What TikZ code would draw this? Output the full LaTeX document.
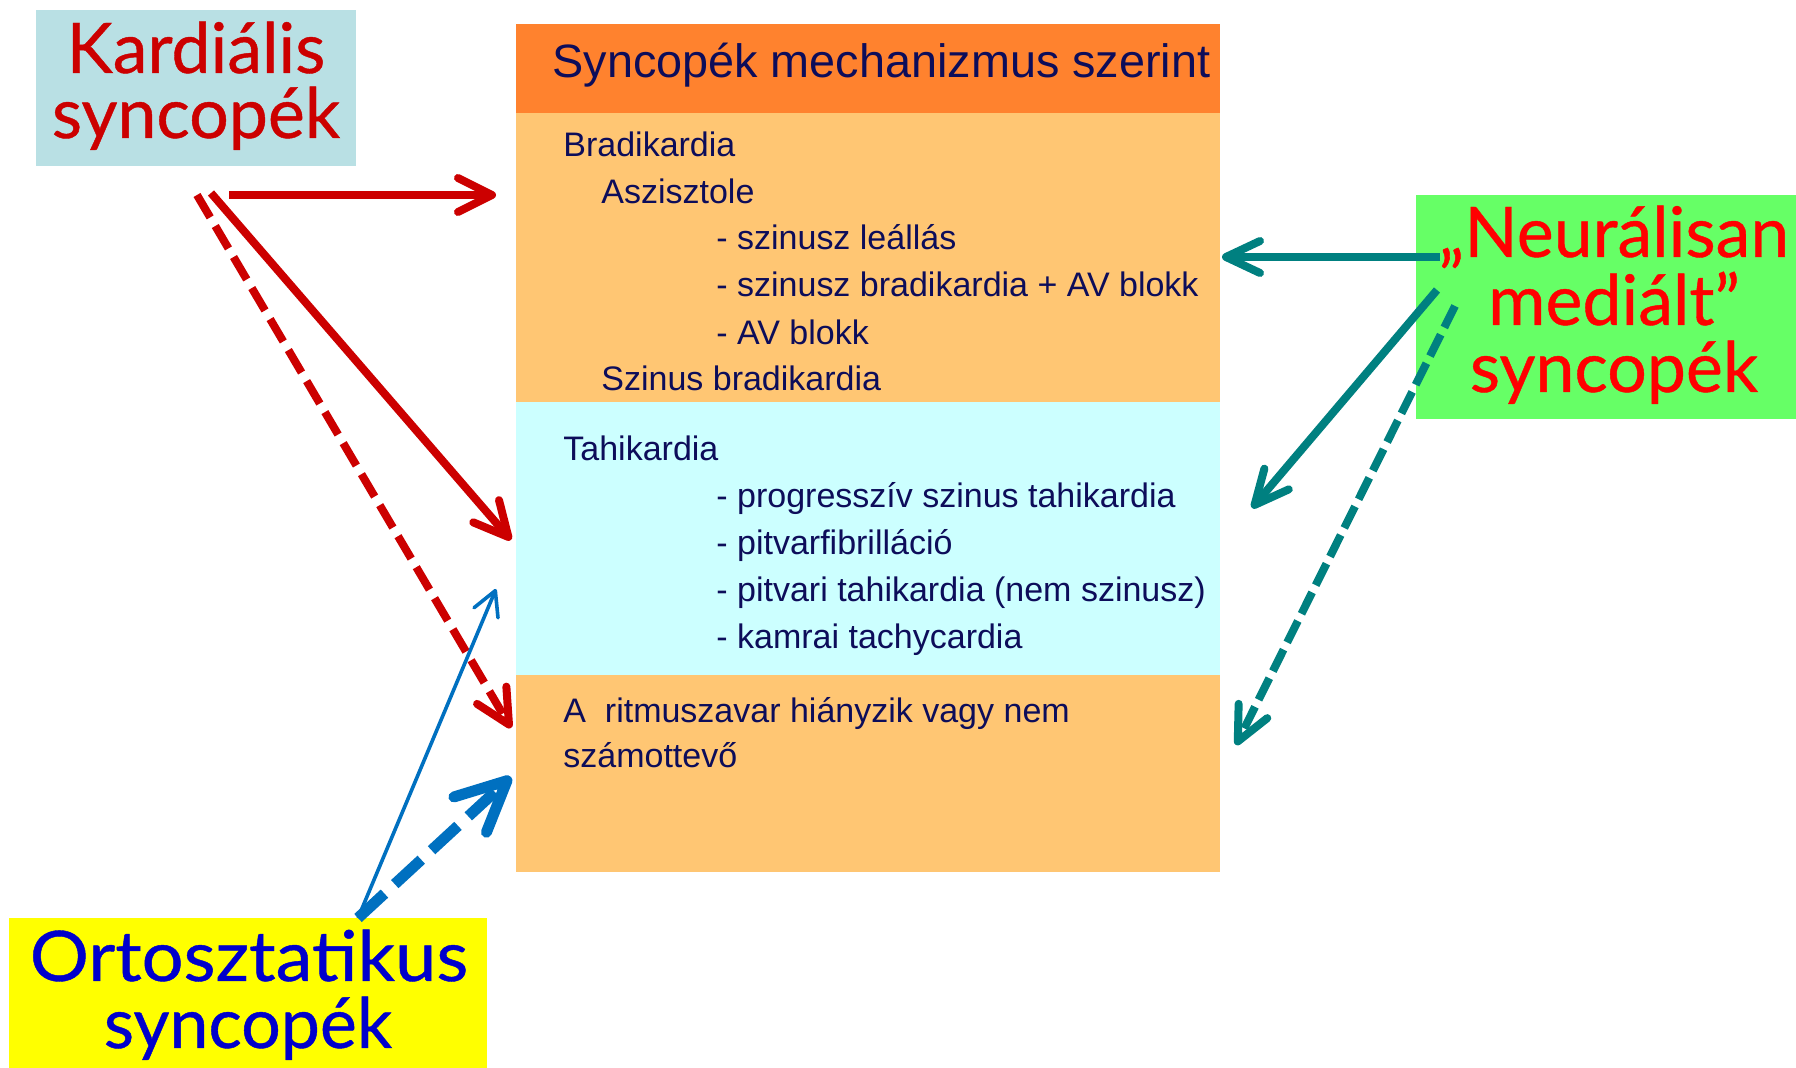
\documentclass[tikz,border=0pt]{standalone}
\usepackage{fontspec}
\setmainfont{Liberation Sans}
\newfontfamily\handfont[FakeBold=0.6]{Lato}
\usetikzlibrary{arrows.meta}

\definecolor{kardfill}{RGB}{185,224,228}
\definecolor{neurfill}{RGB}{102,255,102}
\definecolor{ortofill}{RGB}{255,255,0}
\definecolor{titlefill}{RGB}{255,130,46}
\definecolor{warmfill}{RGB}{255,198,115}
\definecolor{coolfill}{RGB}{204,255,255}
\definecolor{navy}{RGB}{13,13,90}
\definecolor{darkred}{RGB}{204,0,0}
\definecolor{brightred}{RGB}{255,0,0}
\definecolor{handblue}{RGB}{0,0,204}
\definecolor{arrblue}{RGB}{0,112,192}
\definecolor{arrteal}{RGB}{0,128,128}

\begin{document}
\begin{tikzpicture}[x=0.5pt,y=-0.5pt,
  panel/.style 2 args={minimum width=#1, minimum height=#2, inner sep=0pt, outer sep=0pt, draw=none},
  hand/.style={font=\handfont\fontsize{34.9pt}{40pt}\selectfont, inner sep=0pt, anchor=base},
  body/.style={font=\fontsize{17pt}{20pt}\selectfont, text=navy, inner sep=0pt, anchor=base west},
  heading/.style={font=\fontsize{23.4pt}{28pt}\selectfont, text=navy, inner sep=0pt, anchor=base west},
  barb/.style 2 args={-{Straight Barb[round, length=#1, width=#2]}},
  redarrow/.style={draw=darkred, line width=4pt, barb={17pt}{17pt}},
  tealarrow/.style={draw=arrteal, line width=4pt, barb={17pt}{16pt}},
  thinblue/.style={draw=arrblue, line width=1.8pt, barb={12pt}{13pt}},
  thickblue/.style={draw=arrblue, line width=5.5pt, barb={25pt}{24pt}},
  dashA/.style={dash pattern=on 13pt off 5pt},
  dashB/.style={dash pattern=on 18pt off 7pt},
  dashC/.style={dash pattern=on 12pt off 4pt}]

\useasboundingbox (0,0) rectangle (1796,1068);
\fill[white] (0,0) rectangle (1796,1068);

% table of mechanisms
\node[panel={352pt}{44.5pt}, fill=titlefill] (title) at (868,68.5) {};
\node[panel={352pt}{144.5pt}, fill=warmfill] (brady) at (868,257.5) {};
\node[panel={352pt}{136.5pt}, fill=coolfill] (tahi) at (868,538.5) {};
\node[panel={352pt}{98.5pt}, fill=warmfill] (rest) at (868,773.5) {};

\node[heading] (ttl) at (552,78) {Syncopék mechanizmus szerint};

\node[body] (b1) at (563,157) {Bradikardia};
\node[body] (b2) at (601,204) {Aszisztole};
\node[body] (b3) at (716,250) {- szinusz leállás};
\node[body] (b4) at (716,297) {- szinusz bradikardia + AV blokk};
\node[body] (b5) at (716,345) {- AV blokk};
\node[body] (b6) at (601,391) {Szinus bradikardia};

\node[body] (t1) at (563,461) {Tahikardia};
\node[body] (t2) at (716,508) {- progresszív szinus tahikardia};
\node[body] (t3) at (716,555) {- pitvarfibrilláció};
\node[body] (t4) at (716,602) {- pitvari tahikardia (nem szinusz)};
\node[body] (t5) at (716,649) {- kamrai tachycardia};

\node[body] (r1) at (563,723) {A\ \ ritmuszavar hiányzik vagy nem};
\node[body] (r2) at (563,768) {számottevő};

% source boxes
\node[panel={160pt}{78pt}, fill=kardfill] (kard) at (196,88) {};
\node[panel={190pt}{112pt}, fill=neurfill] (neur) at (1606,307) {};
\node[panel={239pt}{75pt}, fill=ortofill] (orto) at (248,993) {};

% arrow end points
\coordinate (kS1) at (229,195);  \coordinate (kT1) at (496,195);
\coordinate (kS2) at (211,193);  \coordinate (kT2) at (511,540);
\coordinate (kS3) at (197,195);  \coordinate (kT3) at (511,728);
\coordinate (oS)  at (358,918);
\coordinate (oT1) at (496,589);  \coordinate (oT2) at (511,777);
\coordinate (nS1) at (1440,257); \coordinate (nT1) at (1222,257);
\coordinate (nS2) at (1437,290); \coordinate (nT2) at (1252,508);
\coordinate (nS3) at (1455,306); \coordinate (nT3) at (1236,745);

% cardiac arrows
\draw[redarrow] (kS1) -- (kT1);
\draw[redarrow] (kS2) -- (kT2);
\draw[redarrow, dashA] (kS3) -- (kT3);

% orthostatic arrows
\draw[thinblue] (oS) -- (oT1);
\draw[thickblue, dashB] (oS) -- (oT2);

% neurally mediated arrows
\draw[tealarrow] (nS1) -- (nT1);
\draw[tealarrow] (nS2) -- (nT2);
\draw[tealarrow, dashC] (nS3) -- (nT3);

% box captions
\node[hand, text=darkred] (k1) at (196,73) {Kardiális};
\node[hand, text=darkred] (k2) at (196,138) {syncopék};

\node[hand, text=brightred] (n1) at (1614,257) {„Neurálisan};
\node[hand, text=brightred] (n2) at (1614,325) {mediált”};
\node[hand, text=brightred] (n3) at (1614,392) {syncopék};

\node[hand, text=handblue] (o1) at (249,981) {\scalebox{1.06}[1]{Ortosztatikus}};
\node[hand, text=handblue] (o2) at (248,1048) {syncopék};

\end{tikzpicture}
\end{document}
